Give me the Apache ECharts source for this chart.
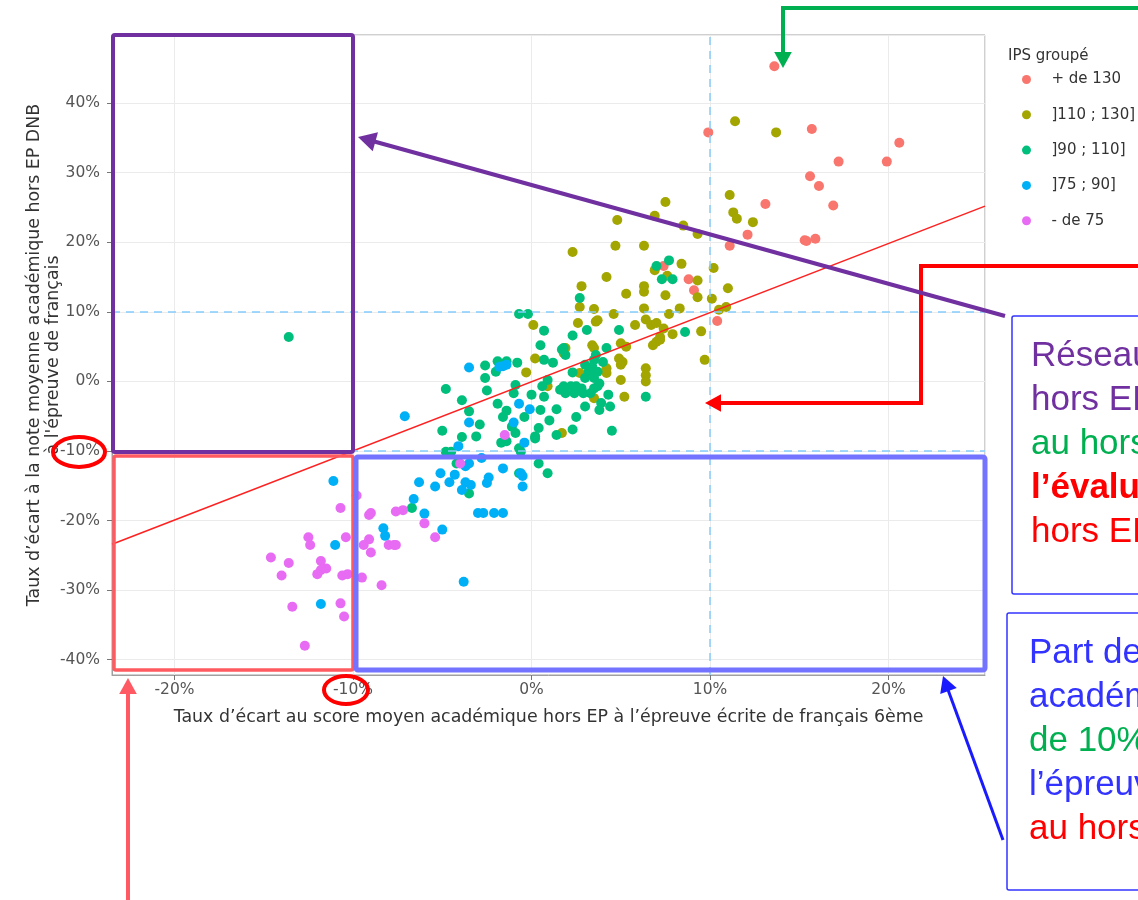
<!DOCTYPE html>
<html>
<head>
<meta charset="utf-8">
<script src="https://cdn.jsdelivr.net/npm/echarts@6/dist/echarts.min.js"></script>
<style>
  html, body { margin: 0; padding: 0; background: #fff; }
  #chart { width: 1138px; height: 900px; }
</style>
</head>
<body>
<div id="chart"></div>
<script>
// groups of IPS, values in % : [ecart 6e, ecart DNB]
const groupNames = ['+ de 130', ']110 ; 130]', ']90 ; 110]', ']75 ; 90]', '- de 75']
const groupColors = ['#F8766D', '#A3A500', '#00BF7D', '#00B0F6', '#E76BF3']

const ipsPlus130 = [
  [13.6, 45.3], [9.9, 35.8], [15.7, 36.3], [20.6, 34.3], [17.2, 31.6], [19.9, 31.6],
  [15.6, 29.5], [16.1, 28.1], [13.1, 25.5], [16.9, 25.3], [12.1, 21.1], [15.3, 20.3],
  [15.4, 20.2], [15.9, 20.5], [11.1, 19.5], [8.8, 14.7], [9.1, 13.1], [10.4, 8.7], [7.4, 16.6]
]
const ips110to130 = [
  [11.4, 37.4], [13.7, 35.8], [7.5, 25.8], [11.1, 26.8], [11.3, 24.3], [11.5, 23.4], [12.4, 22.9],
  [8.5, 22.4], [9.3, 21.2], [4.8, 23.2], [6.9, 23.8], [2.3, 18.6], [4.7, 19.5], [6.3, 19.5],
  [6.9, 16.0], [8.4, 16.9], [7.6, 15.2], [10.2, 16.3], [4.2, 15.0], [2.8, 13.7], [9.3, 14.5],
  [6.3, 13.7], [6.3, 12.9], [5.3, 12.6], [7.5, 12.4], [9.3, 12.1], [11.0, 13.4], [10.1, 11.9],
  [2.7, 10.7], [3.5, 10.4], [4.6, 9.7], [6.3, 10.5], [8.3, 10.5], [7.7, 9.7], [10.5, 10.3],
  [10.9, 10.7], [2.6, 8.4], [3.7, 8.8], [3.6, 8.6], [5.8, 8.1], [6.4, 8.9], [6.7, 8.1], [7.0, 8.4],
  [7.4, 7.6], [7.9, 6.8], [9.5, 7.2], [7.2, 6.4], [0.1, 8.1], [0.2, 3.3], [-0.3, 1.3], [1.8, 4.1],
  [1.7, -7.4], [0.9, -0.7], [3.4, 5.2], [3.5, 4.8], [5.0, 5.5], [5.3, 5.0], [6.8, 5.2], [7.0, 5.7],
  [7.2, 6.0], [9.7, 3.1], [4.9, 3.3], [5.1, 2.8], [5.0, 2.4], [4.2, 1.9], [4.2, 1.2], [6.4, 1.9],
  [6.4, 0.9], [6.4, 0.0], [5.0, 0.2], [2.7, 1.2], [3.5, -2.4], [5.2, -2.2], [1.9, 4.8]
]
const ips90to110 = [
  [-13.6, 6.4], [7.0, 16.6], [7.7, 17.4], [7.3, 14.7], [7.9, 14.7], [2.7, 12.0], [2.3, 6.6],
  [3.1, 7.4], [4.9, 7.4], [8.6, 7.1], [-0.7, 9.7], [-0.2, 9.7], [0.7, 7.3], [0.5, 5.2], [1.7, 4.6],
  [0.7, 3.1], [1.2, 2.7], [-1.9, 2.9], [-1.4, 2.9], [-0.8, 2.7], [-2.6, 2.3], [-2.6, 0.5],
  [-2.0, 1.4], [-4.8, -1.1], [-2.5, -1.3], [-3.9, -2.7], [-0.9, -0.5], [-1.0, -1.7], [0.0, -1.9],
  [0.9, 0.2], [0.6, -0.7], [0.7, -2.2], [1.6, -1.2], [1.9, -1.7], [-1.9, -3.2], [-1.4, -4.2],
  [-1.6, -5.1], [-3.5, -4.3], [-2.9, -6.2], [-0.4, -5.1], [0.5, -4.1], [1.0, -5.6], [1.4, -4.0],
  [0.4, -6.7], [-1.1, -6.5], [-0.9, -7.4], [-5.0, -7.1], [-3.9, -8.0], [-3.1, -7.9], [0.2, -7.9],
  [1.4, -7.7], [1.9, 3.8], [1.8, 4.8], [3.6, 3.8], [3.5, 3.1], [4.2, 4.8], [4.0, 2.8], [3.0, 2.4],
  [3.4, 2.1], [2.3, 1.3], [3.2, 1.4], [3.5, 1.2], [3.7, 1.4], [3.0, 0.5], [3.5, 0.5], [3.8, -0.3],
  [1.8, -0.7], [2.2, -0.7], [2.5, -0.7], [2.8, -1.0], [2.4, -1.7], [2.9, -1.7], [3.3, -1.7],
  [3.5, -1.0], [3.7, -0.7], [4.3, -1.9], [3.9, -3.1], [4.4, -3.6], [3.8, -4.1], [3.0, -3.6],
  [6.4, -2.2], [2.5, -5.1], [2.3, -6.9], [4.5, -7.1], [-1.7, -8.8], [-1.4, -8.6], [-0.7, -9.6],
  [-0.6, -10.1], [0.2, -8.2], [-4.8, -10.1], [-4.5, -10.1], [-4.2, -11.8], [-3.5, -16.1],
  [-6.7, -18.2], [0.4, -11.8], [0.9, -13.2], [-0.7, -13.2]
]
const ips75to90 = [
  [-3.5, 2.0], [-1.8, 2.1], [-1.6, 2.2], [-1.4, 2.4], [-7.1, -5.0], [-0.7, -3.2], [-0.1, -4.0],
  [-3.5, -5.9], [-1.0, -5.9], [-4.1, -9.3], [-0.4, -8.8], [-2.8, -11.0], [-3.5, -11.8],
  [-3.7, -12.2], [-1.6, -12.5], [-5.1, -13.2], [-4.3, -13.4], [-4.6, -14.5], [-6.3, -14.5],
  [-5.4, -15.1], [-3.7, -14.5], [-3.4, -14.9], [-3.9, -15.6], [-2.5, -14.6], [-2.4, -13.8],
  [-0.6, -13.2], [-0.5, -13.6], [-0.5, -15.1], [-6.6, -16.9], [-3.0, -18.9], [-2.7, -18.9],
  [-2.1, -18.9], [-1.6, -18.9], [-6.0, -19.0], [-8.3, -21.1], [-8.2, -22.2], [-5.0, -21.3],
  [-3.8, -28.8], [-11.1, -14.3], [-11.0, -23.5], [-11.8, -32.0]
]
const ipsMoins75 = [
  [-9.8, -16.4], [-10.7, -18.2], [-9.1, -19.2], [-9.0, -18.9], [-7.6, -18.7], [-7.2, -18.5],
  [-12.5, -22.4], [-12.4, -23.5], [-10.4, -22.4], [-9.1, -22.7], [-9.4, -23.5], [-9.0, -24.6],
  [-8.0, -23.5], [-7.7, -23.5], [-7.6, -23.5], [-14.6, -25.3], [-13.6, -26.1], [-11.8, -25.8],
  [-11.5, -26.9], [-11.8, -27.1], [-12.0, -27.7], [-14.0, -27.9], [-10.6, -27.9], [-10.3, -27.7],
  [-9.5, -28.2], [-8.4, -29.3], [-13.4, -32.4], [-10.7, -31.9], [-10.5, -33.8], [-12.7, -38.0],
  [-1.5, -7.7], [-4.0, -11.8], [-6.0, -20.4], [-5.4, -22.4]
]
const groupData = [ipsPlus130, ips110to130, ips90to110, ips75to90, ipsMoins75]

// regression line ends and reference lines
const regX = [-23.5, 25.4]
const regY = [-23.4, 25.2]
const refX = [10]
const refY = [10, -10]

const xTitle = 'Taux d’écart au score moyen académique hors EP à l’épreuve écrite de français 6ème'
const yTitle = 'Taux d’écart à la note moyenne académique hors EP DNB\nà l\'épreuve de français'

const chart = echarts.init(document.getElementById('chart'))
const axisFont = 'DejaVu Sans, Verdana, sans-serif'
const slideFont = 'Liberation Sans, Arial, sans-serif'

// arrow = polyline + triangle head, last point is the tip
function arrow(pts, color, w, head) {
  const n = pts.length
  const [tx, ty] = pts[n - 1]
  const [px, py] = pts[n - 2]
  const len = Math.hypot(tx - px, ty - py)
  const ux = (tx - px) / len, uy = (ty - py) / len
  const bx = tx - ux * head, by = ty - uy * head
  const hw = head * 0.55
  return [
    { type: 'polyline', z: 100, shape: { points: pts.slice(0, n - 1).concat([[bx + ux * 2, by + uy * 2]]) },
      style: { stroke: color, lineWidth: w, fill: null } },
    { type: 'polygon', z: 100, shape: { points: [[tx, ty], [bx - uy * hw, by + ux * hw], [bx + uy * hw, by - ux * hw]] },
      style: { fill: color } }
  ]
}
function rect(x, y, w, h, color, lw, fill) {
  return { type: 'rect', z: 99, shape: { x, y, width: w, height: h, r: 2 },
    style: { stroke: color, lineWidth: lw, fill: fill || null } }
}
function ring(cx, cy, rx, ry) {
  return { type: 'ellipse', z: 100, shape: { cx, cy, rx, ry }, style: { stroke: '#ff0000', lineWidth: 4, fill: null } }
}
function slideText(x, y, text, color, bold) {
  return { type: 'text', z: 101, x, y, style: { text, fill: color, fontFamily: slideFont, fontSize: 35,
    fontWeight: bold ? 'bold' : 'normal', verticalAlign: 'middle' } }
}

const purple = '#7030a0', green = '#00b050', red = '#ff0000', blue = '#3333ff'
const graphics = [
  { type: 'text', left: 1008, top: 49, style: { text: 'IPS groupé', fill: '#333', fontFamily: axisFont, fontSize: 15 } },
  rect(113, 35, 240, 417, purple, 4),
  rect(114, 456, 239, 214, '#ff5a60', 3.5),
  rect(356, 457, 629, 213, '#7373ff', 5),
  ring(79, 452, 26, 15),
  ring(346, 690, 22, 14),
  ...arrow([[1140, 8], [783, 8], [783, 68]], green, 4, 16),
  ...arrow([[1140, 266], [921, 266], [921, 403], [705, 403]], red, 4, 16),
  ...arrow([[128, 905], [128, 678]], '#ff5a64', 4, 16),
  rect(1012, 316, 140, 278, blue, 1.5, '#fff'),
  rect(1007, 613, 140, 277, blue, 1.5, '#fff'),
  ...arrow([[1005, 316], [358, 137]], purple, 4, 18),
  ...arrow([[1003, 840], [943, 676]], '#1a1aff', 3, 16),
  slideText(1031, 356, 'Réseaux', purple),
  slideText(1031, 400, 'hors EP', purple),
  slideText(1031, 444, 'au hors', green),
  slideText(1031, 488, 'l’évaluation', red, true),
  slideText(1031, 532, 'hors EP', red),
  slideText(1029, 653, 'Part des', blue),
  slideText(1029, 697, 'académie', blue),
  slideText(1029, 741, 'de 10%', green),
  slideText(1029, 785, 'l’épreuve', blue),
  slideText(1029, 829, 'au hors', red)
]

const scatterSeries = groupData.map((d, i) => ({
  name: groupNames[i],
  type: 'scatter',
  data: d,
  symbolSize: 10,
  itemStyle: { color: groupColors[i], opacity: 1 }
}))

const option = {
  animation: false,
  backgroundColor: '#fff',
  grid: { left: 112, right: 153, top: 35, bottom: 225, show: true, borderColor: '#a0a0a0', borderWidth: 1 },
  legend: {
    data: groupNames, orient: 'vertical', left: 1022, top: 72, padding: 0,
    icon: 'circle', itemWidth: 26, itemHeight: 9, itemGap: 20.3,
    textStyle: { fontFamily: axisFont, fontSize: 15, color: '#333', lineHeight: 14, padding: [0, 0, 0, 7] }
  },
  xAxis: {
    type: 'value', min: -23.5, max: 25.4, splitNumber: 5,
    name: xTitle, nameLocation: 'middle', nameGap: 34, nameMoveOverlap: false,
    nameTextStyle: { fontFamily: axisFont, fontSize: 17.4, color: '#333' },
    axisLine: { show: true, onZero: false, lineStyle: { color: '#a0a0a0' } },
    axisTick: { show: true, length: 5, lineStyle: { color: '#777' } },
    axisLabel: { formatter: v => v + '%', showMinLabel: false, showMaxLabel: false, interval: 0,
      fontFamily: axisFont, fontSize: 15.5, color: '#555', margin: 7 },
    splitLine: { show: true, lineStyle: { color: '#ebebeb' } }
  },
  yAxis: {
    type: 'value', min: -42.2, max: 49.8, splitNumber: 9,
    name: yTitle, nameLocation: 'middle', nameGap: 49, nameRotate: 90, nameMoveOverlap: false,
    nameTextStyle: { fontFamily: axisFont, fontSize: 17.4, color: '#333', lineHeight: 19, align: 'center' },
    axisLine: { show: true, onZero: false, lineStyle: { color: '#a0a0a0' } },
    axisTick: { show: true, length: 5, lineStyle: { color: '#777' } },
    axisLabel: { formatter: v => v + '%', showMinLabel: false, showMaxLabel: false, interval: 0,
      fontFamily: axisFont, fontSize: 15.5, color: '#555', margin: 12 },
    splitLine: { show: true, lineStyle: { color: '#ebebeb' } }
  },
  series: [
    {
      name: 'repères', type: 'line', data: [], silent: true,
      markLine: {
        silent: true, symbol: 'none', label: { show: false },
        lineStyle: { color: '#85cdfb', type: [8, 6], width: 1.5 },
        data: refX.map(v => ({ xAxis: v })).concat(refY.map(v => ({ yAxis: v })))
      }
    },
    ...scatterSeries,
    {
      name: 'régression', type: 'line', symbol: 'none', silent: true,
      data: regX.map((x, i) => [x, regY[i]]),
      lineStyle: { color: '#ff2020', width: 1.5 }
    }
  ],
  graphic: graphics
}
chart.setOption(option)
</script>
</body>
</html>
